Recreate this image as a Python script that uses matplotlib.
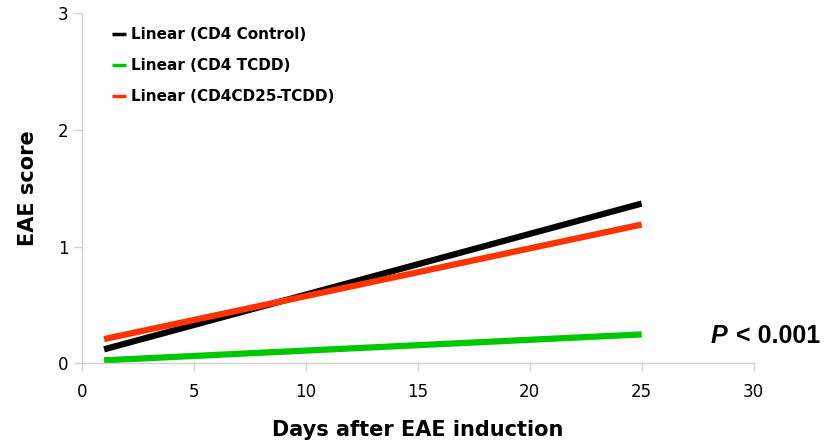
import matplotlib.pyplot as plt
import numpy as np

# linhas de tendencia (inicio e fim)
dias = [1, 25]
cd4_controle = [0.12, 1.37]
cd4_tcdd = [0.026, 0.248]
cd4cd25_tcdd = [0.208, 1.19]

rotulos = ['Linear (CD4 Control)', 'Linear (CD4 TCDD)', 'Linear (CD4CD25-TCDD)']
cores = ['#000000', '#00c800', '#ff3300']

plt.rcParams['font.family'] = 'DejaVu Sans'

fig = plt.figure(figsize=(8.27, 4.48), dpi=100)
ax = fig.add_axes([0.0988, 0.189, 0.8125, 0.781])

for serie, rot, cor in zip([cd4_controle, cd4_tcdd, cd4cd25_tcdd], rotulos, cores):
    ax.plot(dias, serie, color=cor, linewidth=4.5, label=rot, solid_capstyle='butt')

ax.set_xlim(0, 30)
ax.set_ylim(0, 3)
ax.set_xticks([0, 5, 10, 15, 20, 25, 30])
ax.set_yticks([0, 1, 2, 3])

for s in ['top', 'right']:
    ax.spines[s].set_visible(False)
for s in ['left', 'bottom']:
    ax.spines[s].set_color('#d0d0d0')
    ax.spines[s].set_linewidth(1.0)
ax.tick_params(axis='both', colors='#d0d0d0', labelcolor='black', labelsize=12, length=6, width=1.0)
ax.tick_params(axis='x', pad=8)

ax.set_xlabel('Days after EAE induction', fontsize=15, fontweight='bold', labelpad=14)
ax.set_ylabel('EAE score', fontsize=15, fontweight='bold', labelpad=14)

leg = ax.legend(loc='upper left', bbox_to_anchor=(0.025, 1.0), frameon=False,
                handlelength=0.9, handletextpad=0.35, labelspacing=1.05,
                prop={'weight': 'bold', 'size': 11})
for h in leg.get_lines():
    h.set_linewidth(2.5)

ax.text(0.936, 0.057, 'P', transform=ax.transAxes, ha='left', va='baseline',
        fontsize=18, fontweight='bold', fontstyle='italic', family='Liberation Sans')
ax.text(1.0987, 0.057, '< 0.001', transform=ax.transAxes, ha='right', va='baseline',
        fontsize=18, fontweight='bold', family='Liberation Sans')

plt.savefig('out.png', dpi=100)
